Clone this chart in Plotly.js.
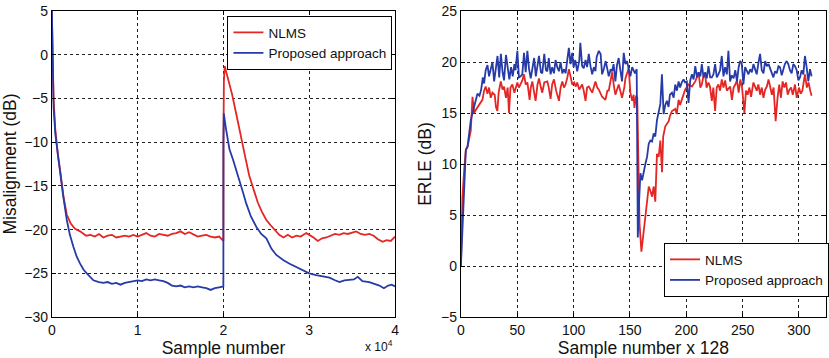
<!DOCTYPE html>
<html>
<head>
<meta charset="utf-8">
<script src="https://cdn.plot.ly/plotly-3.0.1.min.js"></script>
<style>html,body{margin:0;padding:0;background:#fff;}#chart{width:829px;height:358px;}</style>
</head>
<body>
<div id="chart"></div>
<script>
// ---------- Left panel: misalignment vs sample number ----------
const misNlmsX = [0,100,200,400,700,1000,1400,1744,2200,2700,3290,4000,4500,5000,5500,6000,6500,7000,7500,8000,8500,9000,9500,10000,10500,11000,11500,12000,12500,13000,13500,14000,14500,15000,15500,16000,16500,17000,17500,18000,18500,19000,19500,19800,19990,20000,20050,20150,20600,21000,21500,22000,22500,23000,23500,24000,24500,25000,25500,26000,26500,27000,27500,28000,28500,29000,29650,30000,30500,31000,31500,32000,32500,33000,33500,34000,34500,35000,35470,36000,36500,37000,37500,38000,38560,39000,39500,40000];
const misNlmsY = [5,-1,-5,-8.5,-11.5,-13.5,-16.5,-18.3,-19.3,-19.9,-20.2,-20.7,-20.6,-20.8,-20.5,-20.9,-20.7,-20.6,-20.9,-20.8,-20.7,-20.8,-20.6,-20.8,-20.6,-20.4,-20.7,-20.8,-20.5,-20.6,-20.7,-20.5,-20.4,-20.2,-20.5,-20.3,-20.6,-20.8,-20.7,-20.6,-20.8,-20.9,-20.8,-21.1,-21.3,-10,-3,-1.3,-3,-4.5,-6.8,-9,-11.5,-13.8,-15.5,-16.9,-18,-18.9,-19.5,-20.1,-20.6,-20.9,-20.6,-20.9,-20.7,-20.8,-20.4,-20.6,-20.9,-21.3,-21,-20.9,-20.7,-20.5,-20.6,-20.4,-20.5,-20.3,-20.2,-20.5,-20.6,-20.5,-20.7,-21.1,-21.4,-21.2,-21.3,-20.8];
const misPropX = [0,100,200,400,700,965,1300,1744,2100,2520,2900,3290,3700,4070,4500,4840,5500,6000,6500,7000,7500,8000,8500,9000,9500,10000,10500,11000,11500,12000,12500,13000,13500,14000,14500,15000,15500,16000,16500,17000,17500,18000,18500,19000,19500,19990,20000,20040,20300,20700,21120,21500,21900,22300,22650,23200,23840,24400,25000,25600,26160,27000,27710,28500,29260,30000,30800,31500,32360,33000,33520,34100,34690,35200,35650,36200,37000,37600,38170,38700,39200,39600,40000];
const misPropY = [5,-2,-6,-9,-11.5,-13.2,-16,-18.9,-20.6,-22,-23.1,-23.9,-24.6,-25,-25.5,-25.8,-26,-26.1,-26,-26.2,-26.1,-26.3,-26.1,-26,-25.9,-25.8,-25.9,-25.7,-25.8,-25.7,-25.8,-25.9,-26.1,-26.4,-26.5,-26.4,-26.6,-26.5,-26.6,-26.5,-26.6,-26.7,-26.9,-26.7,-26.6,-26.5,-10,-6.7,-8.5,-10.8,-12,-13.2,-14.3,-15.8,-17,-18.5,-19.7,-20.5,-21,-22.2,-22.9,-23.5,-23.9,-24.3,-24.6,-25,-25.2,-25.3,-25.5,-25.8,-26,-25.8,-25.7,-25.7,-25.4,-25.9,-26,-26.2,-26.4,-26.7,-26.4,-26.3,-26.5];
const leftXTickVals = [0,10000,20000,30000,40000];
const leftXTickText = ['0','1','2','3','4'];

// ---------- Right panel: ERLE vs block index ----------
const erleNlmsX = [0,1.4,2.9,4.4,5.9,7.3,8.8,10.3,11.8,13.2,16.2,19.1,20.6,22,23.6,25,26.5,28,30,31.1,32.4,33.5,35.4,37,38.3,40,41.5,42.7,44,45.7,47.5,50.1,51.5,53,54.5,56,57.5,59,61,62,63.4,65,66.3,68,69.3,71,72.2,74,76.7,78,79.6,81,82.6,84.5,87,88.5,90,91.5,92.9,94.5,95.8,97.3,98.8,100.5,102,103.2,105,107.6,109,110.6,112,113.5,116.5,119.4,121,122.4,125.3,128.3,130,131.2,134.2,136,137.1,140,143,145,146,148.9,150.4,152,153.3,154,155.5,156.5,157.5,158.5,160.2,162.2,163.7,165.2,166.7,168.1,169.6,171.1,172.5,174,175.5,177,178.5,179.5,181.4,184.4,185.5,187.3,190.2,191.5,193.2,194.5,196.1,199,202,205,208,210.9,212.5,213.8,215,216.8,218,219.7,221,222.7,224,225.6,227,228.5,230,231.5,233,234.5,236,237.4,239,240.5,242,243.5,245,246.5,248,249.5,251.6,253,254.5,256,257.5,259.6,261,262.5,264,265.5,267,268.5,270,271.5,273,274.5,276,277.5,279.3,281,282.5,284,285.5,287,288.5,290,291.5,293,294.5,296.5,298,300,301.5,303,305.3,307,308.5,310,311.2];
const erleNlmsY = [0,6.8,9.4,11.4,11.7,12.5,13.3,16.6,15,15.3,15.8,16.3,17.2,17.6,16.9,17.5,16.5,17,16.8,15.6,15.2,17,18.1,17.3,17.6,16.5,17.5,15,17.5,17.8,17,18,17.5,17.8,18.2,18.8,17.8,18,16.3,17.5,18.1,17,16.2,17.8,18.4,17.5,17,18,18.1,17.5,16.4,17.8,18.3,17.2,16.2,17.5,18.1,17.5,17.8,18.5,19.3,18.6,17.8,18,17.6,18,17.3,17.8,17.2,16.2,17.5,17.6,17,18.1,17.5,17.3,16.6,16.3,17.2,17.2,19,17.5,16.8,17.8,16.5,17.5,18.4,19.4,17,16.2,16.8,15.5,16.7,16.5,8,4.2,1.4,3.5,5.1,6.5,7.8,7.4,6.8,7.8,6.3,11,10.7,12.3,9.2,12.7,13.7,14.2,14.7,15.2,15.4,14.9,16.3,15.8,16.3,17.3,17.8,17.6,18.1,19,17.5,17.8,18.5,18.8,17.5,18,17.6,16.2,17.5,15.2,17.5,17.8,17.2,18.3,17.5,18.2,17.2,17.4,17.6,16.3,17.5,17.8,18.2,17,18.3,17.5,15,17.2,16.8,17.5,16.6,18,17.5,17.2,17.8,16.8,17.5,16.5,17.3,17.6,18.3,17.5,16.8,17.5,14.2,16.5,17.8,16.5,18.1,17.5,18,16.8,17.3,17.5,16.8,17.8,16.5,17.5,16.9,17.2,18.8,17.5,18,17.2,16.7];
const erlePropX = [0,1.4,2.9,4.4,5.9,7.3,8.8,10.3,11.8,13.2,14.7,16.5,18,19.5,20.6,22,23.6,25,26.5,28,29.5,31,32.5,34,35.5,37,38.3,40,41.5,43,44.5,46,47.5,48.5,50.1,51.5,53,54.5,56,57.5,59,60.5,62,63.4,65,66.5,68,69.3,71,72.2,74,75.5,76.7,78,79.6,81,82.6,84,85.5,87,88.5,90,91.5,92.9,94.5,95.8,97.3,98.8,100,101.5,103.2,105,106,107.6,109,110.6,112,113.5,115,116.5,118,119.4,120.5,122.4,124,125.3,127,128.5,130,131.2,133,134.2,135.5,137.1,138.5,140,141.5,143,144.5,146,147.4,149,150.4,152,153.3,154.5,156,157,158,159.3,160.8,162.2,163.7,165.2,166.7,168.1,169.6,171.1,172.5,174,175.5,177,178.4,179.9,181.4,182.8,184.3,185.5,187.3,188.8,190.2,191.7,193.2,194.5,196,197.6,199,200.5,202,203.5,205,206.5,208,209.5,211,212.5,213.8,215.3,216.8,218.2,219.7,221.2,222.7,224.1,225.6,227.1,228.5,230,231.5,233,234.5,236,237.4,238.9,240.4,242,243.5,245,246.5,247.8,249.2,250.7,252.2,253.7,255.2,256.7,258.2,259.6,261,262.5,264,265.5,267,268.5,270,271.5,273,274.5,276,277.3,278.8,280.3,281.8,283.2,284.7,286,287.5,289.1,290.5,292,293.5,295,296.5,298,299.5,300.9,302.4,303.9,305.3,306.8,308.3,309.8,311.2];
const erlePropY = [0,3.5,8.4,11.4,11.7,13,14.3,15,15.6,16.4,16.9,16.7,17.3,18.5,17.9,19.2,19.7,18.6,19.5,20,18.1,19.6,20.6,18.5,20.8,19,18.2,20.7,19.2,18.3,19.5,18.6,19.8,19.2,21.1,18.5,18.6,18.8,20.9,19,21.1,19.3,18.4,19.5,20.4,18.6,19.5,20.6,19,18.9,20.8,19.2,19.1,20.4,18.8,19.5,18.9,20.2,19.5,19.1,20,18.9,19.3,18.9,20.3,21.4,19.8,20.9,19.5,20.2,19.1,20.1,21.9,19.6,19.4,20.2,19.5,20.8,19.6,18.8,19.5,19.1,20.5,21.1,20.8,18.8,19.4,20.1,19.3,18.6,19.3,19.1,19.8,18.1,19.7,20.4,19.2,18.1,20.9,19.8,20.1,19.2,18.6,19.5,19.1,18.9,19.3,2.8,6,9.1,8.4,9.4,10,10.7,12,12.3,12.2,13,12.7,14.3,15.3,15.9,18.8,14.9,15.8,16.2,15.6,16.8,17,16.5,17.8,17.2,18.1,17.5,18,18.3,18,18.1,16,18.2,18.8,18.3,19.6,18.5,19,18.6,19.8,18.5,19,18.4,19.6,18.5,18.5,18.8,19.8,18.5,18.8,19.2,20.6,18.6,19.5,18.8,21.1,18.1,18.7,18.4,19.2,18.1,19.5,20.1,19.9,17.8,19.5,19.2,18.8,19.3,19,19.8,19.3,18.8,19.9,20.8,19.2,18.9,20.1,19.6,19.8,19.4,19,18.5,19.1,18.9,19.6,19.5,18.7,19.3,19.8,20.1,19.8,19.2,18.9,19.8,19.6,19.2,18.2,18.5,19.2,18.8,20.6,19.5,18.1,19.3,18.6];

const seriesNames = ['NLMS', 'Proposed approach'];
const red = 'rgb(228,38,36)';
const blue = 'rgb(38,58,168)';
const fontFam = 'Liberation Sans, Arial, Helvetica, sans-serif';

const traces = [
  {x: misNlmsX, y: misNlmsY, name: seriesNames[0], type: 'scatter', mode: 'lines', line: {color: red, width: 1.8}, xaxis: 'x', yaxis: 'y', legend: 'legend'},
  {x: misPropX, y: misPropY, name: seriesNames[1], type: 'scatter', mode: 'lines', line: {color: blue, width: 1.8}, xaxis: 'x', yaxis: 'y', legend: 'legend'},
  {x: erleNlmsX, y: erleNlmsY, name: seriesNames[0], type: 'scatter', mode: 'lines', line: {color: red, width: 1.8}, xaxis: 'x2', yaxis: 'y2', legend: 'legend2'},
  {x: erlePropX, y: erlePropY, name: seriesNames[1], type: 'scatter', mode: 'lines', line: {color: blue, width: 1.8}, xaxis: 'x2', yaxis: 'y2', legend: 'legend2'}
];

const titleFont = {family: fontFam, size: 17.5, color: '#111'};
const axBase = {
  showline: true, mirror: 'ticks', linecolor: '#000', linewidth: 1,
  ticks: 'inside', ticklen: 4, tickcolor: '#000',
  showgrid: true, gridcolor: '#222', griddash: 'dot', gridwidth: 1,
  zeroline: false, automargin: false,
  tickfont: {family: fontFam, size: 14, color: '#111'}
};
const ax = (o) => Object.assign(JSON.parse(JSON.stringify(axBase)), o);

const layout = {
  width: 829, height: 358,
  margin: {l: 0, r: 0, t: 0, b: 0},
  paper_bgcolor: '#fff', plot_bgcolor: '#fff',
  font: {family: fontFam, color: '#111'},
  xaxis: ax({domain: [0.0627, 0.4777], range: [0, 40000], tickvals: leftXTickVals, ticktext: leftXTickText, anchor: 'y',
    title: {text: 'Sample number', standoff: 3, font: titleFont}}),
  yaxis: ax({domain: [0.1145, 0.969], range: [-30, 5], dtick: 5, anchor: 'x',
    title: {text: 'Misalignment (dB)', standoff: 4, font: titleFont}}),
  xaxis2: ax({domain: [0.5573, 0.9988], range: [0, 324], dtick: 50, anchor: 'y2',
    title: {text: 'Sample number x 128', standoff: 3, font: titleFont}}),
  yaxis2: ax({domain: [0.1145, 0.969], range: [-5, 25], dtick: 5, anchor: 'x2',
    title: {text: 'ERLE (dB)', standoff: 4, font: titleFont}}),
  legend: {x: 0.275, y: 0.955, xanchor: 'left', yanchor: 'top', bgcolor: '#fff', bordercolor: '#000', borderwidth: 1,
    font: {family: fontFam, size: 13.5, color: '#111'}, tracegroupgap: 0, itemwidth: 30},
  legend2: {x: 0.803, y: 0.321, xanchor: 'left', yanchor: 'top', bgcolor: '#fff', bordercolor: '#000', borderwidth: 1,
    font: {family: fontFam, size: 13.5, color: '#111'}, tracegroupgap: 0, itemwidth: 30},
  showlegend: true,
  annotations: [
    {xref: 'paper', yref: 'paper', x: 0.4777, y: 0.005, xanchor: 'right', yanchor: 'bottom', showarrow: false,
     text: 'x 10<sup>4</sup>', font: {family: fontFam, size: 12, color: '#111'}}
  ]
};

Plotly.newPlot('chart', traces, layout, {staticPlot: true, displayModeBar: false});
</script>
</body>
</html>
